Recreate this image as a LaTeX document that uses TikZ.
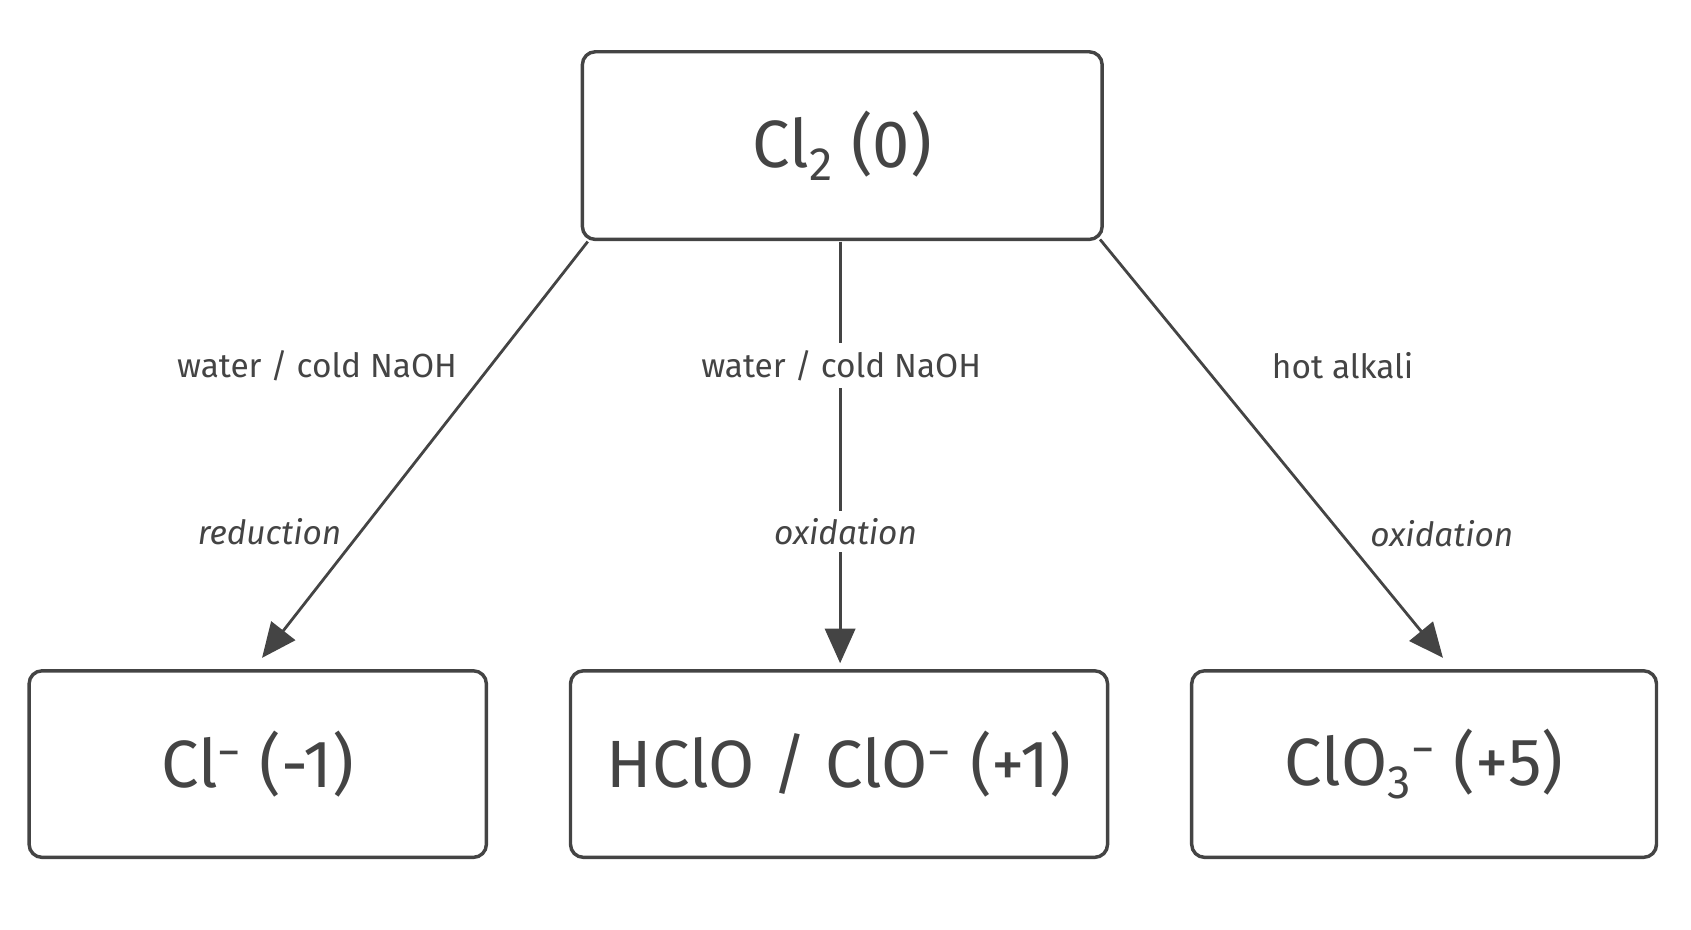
\documentclass[tikz,border=0pt]{standalone}
\usepackage{fontspec}
\setmainfont{Fira Sans}
\usetikzlibrary{arrows.meta}
\definecolor{ink}{HTML}{444444}
\begin{document}
\begin{tikzpicture}[x=0.5pt,y=-0.5pt,
  box/.style={draw=ink,line width=1.6pt,rounded corners=6pt,text=ink,inner sep=0pt},
  big/.style={font=\fontsize{31}{36}\selectfont},
  lab/.style={text=ink,font=\fontsize{15.5}{18}\selectfont},
  arr/.style={draw=ink,line width=1.3pt,-{Triangle[length=16pt,width=14pt]}}]
\useasboundingbox (0,0) rectangle (1568,862);
\node[box,big,minimum width=241pt,minimum height=87pt] (top) at (781,135) {Cl\textsubscript{2} (0)};
\node[box,big,minimum width=212pt,minimum height=86.5pt] (l) at (239,708.5) {Cl\textsuperscript{−} (-1)};
\node[box,big,minimum width=249pt,minimum height=86.5pt] (m) at (778,708.5) {HClO / ClO\textsuperscript{−} (+1)};
\node[box,big,minimum width=215.5pt,minimum height=86.5pt] (r) at (1320.5,708.5) {ClO\textsubscript{3}\textsuperscript{−} (+5)};
\coordinate (ls) at (545,224); \coordinate (le) at (243,610);
\coordinate (ms) at (779,224); \coordinate (me) at (779,615);
\coordinate (rs) at (1020,222); \coordinate (re) at (1338,610);
\draw[arr] (ls) -- (le);
\draw[arr] (ms) -- (me);
\draw[arr] (rs) -- (re);
\node[lab] (t1) at (294,339) {water / cold NaOH};
\node[lab,fill=white] (t2) at (780,339) {water / cold NaOH};
\node[lab] (t3) at (1245,339) {hot alkali};
\node[lab,font=\fontsize{15.5}{18}\selectfont\itshape] (i1) at (250,493) {reduction};
\node[lab,fill=white,font=\fontsize{15.5}{18}\selectfont\itshape] (i2) at (784,493) {oxidation};
\node[lab,font=\fontsize{15.5}{18}\selectfont\itshape] (i3) at (1337,495) {oxidation};
\end{tikzpicture}
\end{document}
